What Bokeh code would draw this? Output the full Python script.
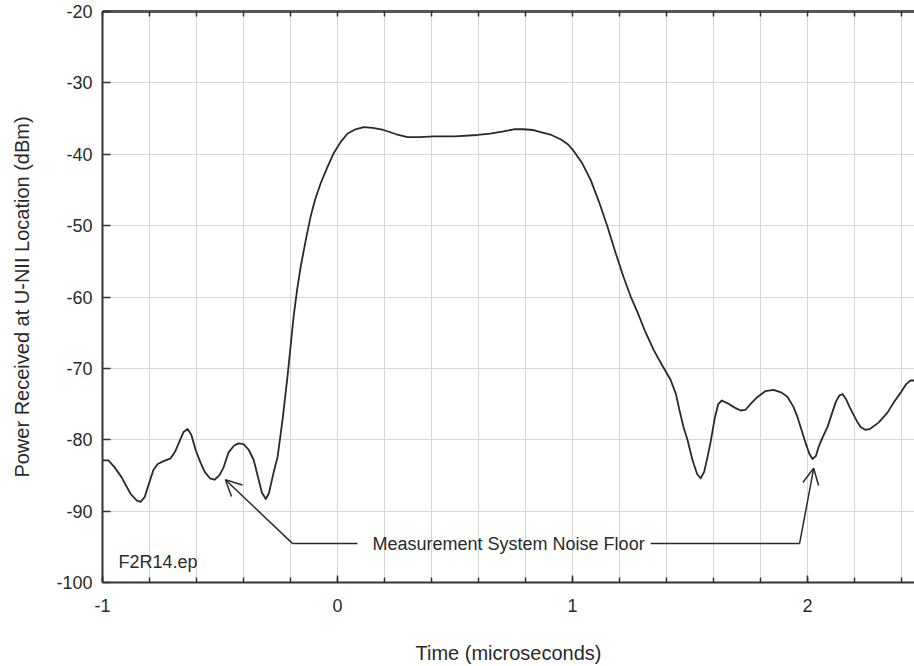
from bokeh.plotting import figure
from bokeh.models import (Range1d, LinearAxis, SingleIntervalTicker, FixedTicker,
                          Label, Arrow, OpenHead, ColumnDataSource, PrintfTickFormatter)
from bokeh.embed import file_html
from bokeh.resources import INLINE

# ---- data ----
time_us = [-1.000, -0.975, -0.950, -0.920, -0.880, -0.855, -0.838, -0.820, -0.804,
           -0.783, -0.765, -0.740, -0.710, -0.690, -0.672, -0.655, -0.638, -0.622,
           -0.604, -0.583, -0.565, -0.543, -0.523, -0.503, -0.485, -0.464, -0.440,
           -0.420, -0.400, -0.378, -0.357, -0.340, -0.322, -0.305, -0.292, -0.272,
           -0.255, -0.234, -0.213, -0.200, -0.187, -0.172, -0.157, -0.135, -0.115,
           -0.095, -0.072, -0.043, -0.017, 0.013, 0.043, 0.077, 0.111, 0.150,
           0.196, 0.250, 0.298, 0.350, 0.409, 0.500, 0.596, 0.650, 0.706, 0.750,
           0.791, 0.830, 0.864, 0.910, 0.949, 0.980, 1.004, 1.040, 1.077, 1.113,
           1.149, 1.183, 1.217, 1.247, 1.277, 1.310, 1.345, 1.380, 1.417, 1.440,
           1.456, 1.472, 1.489, 1.510, 1.530, 1.545, 1.560, 1.575, 1.587, 1.605,
           1.620, 1.635, 1.660, 1.690, 1.715, 1.736, 1.760, 1.787, 1.820, 1.855,
           1.890, 1.915, 1.940, 1.957, 1.975, 1.991, 2.008, 2.021, 2.035, 2.047,
           2.065, 2.085, 2.105, 2.119, 2.135, 2.149, 2.165, 2.180, 2.191, 2.210,
           2.226, 2.245, 2.265, 2.302, 2.340, 2.370, 2.396, 2.420, 2.438, 2.455]
power_dbm = [-82.9, -82.9, -83.8, -85.2, -87.6, -88.5, -88.7, -88.0, -86.3,
             -84.2, -83.4, -83.0, -82.6, -81.6, -80.2, -78.9, -78.5, -79.3,
             -81.4, -83.2, -84.5, -85.4, -85.6, -85.0, -83.9, -81.8, -80.8,
             -80.5, -80.6, -81.4, -82.8, -85.0, -87.4, -88.3, -87.5, -84.6,
             -82.4, -77.2, -71.2, -67.0, -62.8, -59.0, -55.8, -52.0, -48.8,
             -46.3, -44.1, -41.8, -39.9, -38.3, -37.1, -36.5, -36.2, -36.3,
             -36.6, -37.2, -37.6, -37.6, -37.5, -37.5, -37.3, -37.1, -36.8, -36.5,
             -36.5, -36.6, -36.9, -37.3, -37.9, -38.6, -39.5, -41.2, -43.6, -46.7,
             -50.2, -53.8, -57.2, -59.9, -62.2, -64.9, -67.4, -69.5, -71.6, -73.6,
             -76.0, -78.2, -80.0, -82.8, -84.8, -85.4, -84.5, -82.3, -80.4, -77.0,
             -75.0, -74.5, -74.9, -75.5, -75.9, -75.8, -74.9, -74.0, -73.2, -73.0,
             -73.4, -74.0, -75.4, -76.8, -78.7, -80.4, -82.0, -82.7, -82.3, -81.0,
             -79.6, -78.2, -76.2, -74.8, -73.8, -73.6, -74.4, -75.5, -76.2, -77.4,
             -78.2, -78.6, -78.5, -77.6, -76.2, -74.6, -73.4, -72.2, -71.7, -71.7]

x_tick_step = 1.0
x_minor_step = 0.2
y_tick_step = 10.0

# annotation geometry (data units)
note_text = "Measurement System Noise Floor"
note_level = -94.55
note_text_x = 0.149
left_elbow_x, left_line_end_x = -0.191, 0.085
left_tip = (-0.477, -85.6)
right_line_start_x, right_elbow_x = 1.332, 1.966
right_tip = (2.026, -84.0)
file_tag = "F2R14.ep"
file_tag_pos = (-0.932, -97.06)

FONT = "Liberation Sans"
INK = "#2a2a2a"
GRID = "#d6d6d6"

p = figure(width=914, height=666, output_backend="svg", toolbar_location=None,
           x_range=Range1d(-1, 2.455), y_range=Range1d(-100, -20),
           min_border_left=102, min_border_right=0, min_border_top=11,
           min_border_bottom=83)
p.outline_line_color = None
p.background_fill_color = "white"
p.border_fill_color = "white"

# bottom axis
xa = p.xaxis[0]
xa.ticker = SingleIntervalTicker(interval=x_tick_step, num_minor_ticks=5)
xa.formatter = PrintfTickFormatter(format="%d")
xa.axis_label = "Time (microseconds)"
xa.major_tick_in = 7
xa.major_tick_out = 0
xa.minor_tick_in = 5
xa.minor_tick_out = 0
xa.major_label_standoff = 16
xa.axis_label_standoff = 27

# left axis
ya = p.yaxis[0]
ya.ticker = SingleIntervalTicker(interval=y_tick_step, num_minor_ticks=0)
ya.formatter = PrintfTickFormatter(format="%d")
ya.axis_label = "Power Received at U-NII Location (dBm)"
ya.major_tick_in = 8
ya.major_tick_out = 0
ya.minor_tick_in = 0
ya.minor_tick_out = 0
ya.major_label_standoff = 10
ya.axis_label_standoff = 20

for ax in [xa, ya]:
    ax.axis_line_color = "#333333"
    ax.axis_line_width = 2
    ax.major_tick_line_color = "#333333"
    ax.minor_tick_line_color = "#333333"
    ax.major_tick_line_width = 1.5
    ax.minor_tick_line_width = 1.5
    ax.major_label_text_font = FONT
    ax.major_label_text_font_size = "18px"
    ax.major_label_text_color = INK
    ax.axis_label_text_font = FONT
    ax.axis_label_text_font_size = "20px"
    ax.axis_label_text_font_style = "normal"
    ax.axis_label_text_color = INK

# top axis (ticks only, no labels)
n_top = int(round((2.455 + 1) / x_minor_step)) + 1
top_ticks = [-1 + x_minor_step * i for i in range(n_top)]
ta = LinearAxis(ticker=FixedTicker(ticks=[], minor_ticks=top_ticks))
ta.minor_tick_in = 5
ta.minor_tick_out = 0
ta.major_tick_in = 0
ta.major_tick_out = 0
ta.major_label_standoff = 0
ta.axis_line_color = "#555555"
ta.axis_line_width = 3
ta.minor_tick_line_color = "#333333"
ta.minor_tick_line_width = 1.5
p.add_layout(ta, "above")

# grid
p.xgrid.grid_line_color = GRID
p.xgrid.minor_grid_line_color = GRID
p.ygrid.grid_line_color = GRID
p.xgrid.grid_line_width = 1
p.ygrid.grid_line_width = 1

src = ColumnDataSource(dict(t=time_us, pw=power_dbm))
p.line("t", "pw", source=src, line_color="#2a2a2a", line_width=1.8,
       line_join="round")

# annotation lines & arrows
p.line([left_line_end_x, left_elbow_x], [note_level, note_level],
       line_color=INK, line_width=1.5)
p.line([right_line_start_x, right_elbow_x], [note_level, note_level],
       line_color=INK, line_width=1.5)
p.add_layout(Arrow(end=OpenHead(size=16, line_width=1.5, line_color=INK),
                   x_start=left_elbow_x, y_start=note_level,
                   x_end=left_tip[0], y_end=left_tip[1],
                   line_color=INK, line_width=1.5))
p.add_layout(Arrow(end=OpenHead(size=16, line_width=1.5, line_color=INK),
                   x_start=right_elbow_x, y_start=note_level,
                   x_end=right_tip[0], y_end=right_tip[1],
                   line_color=INK, line_width=1.5))

p.add_layout(Label(x=note_text_x, y=note_level, text=note_text,
                   text_font=FONT, text_font_size="18px", text_color=INK,
                   text_baseline="middle", text_align="left"))
p.add_layout(Label(x=file_tag_pos[0], y=file_tag_pos[1], text=file_tag,
                   text_font=FONT, text_font_size="18px", text_color=INK,
                   text_baseline="middle", text_align="left"))

open("out.html", "w").write(file_html(p, INLINE))
